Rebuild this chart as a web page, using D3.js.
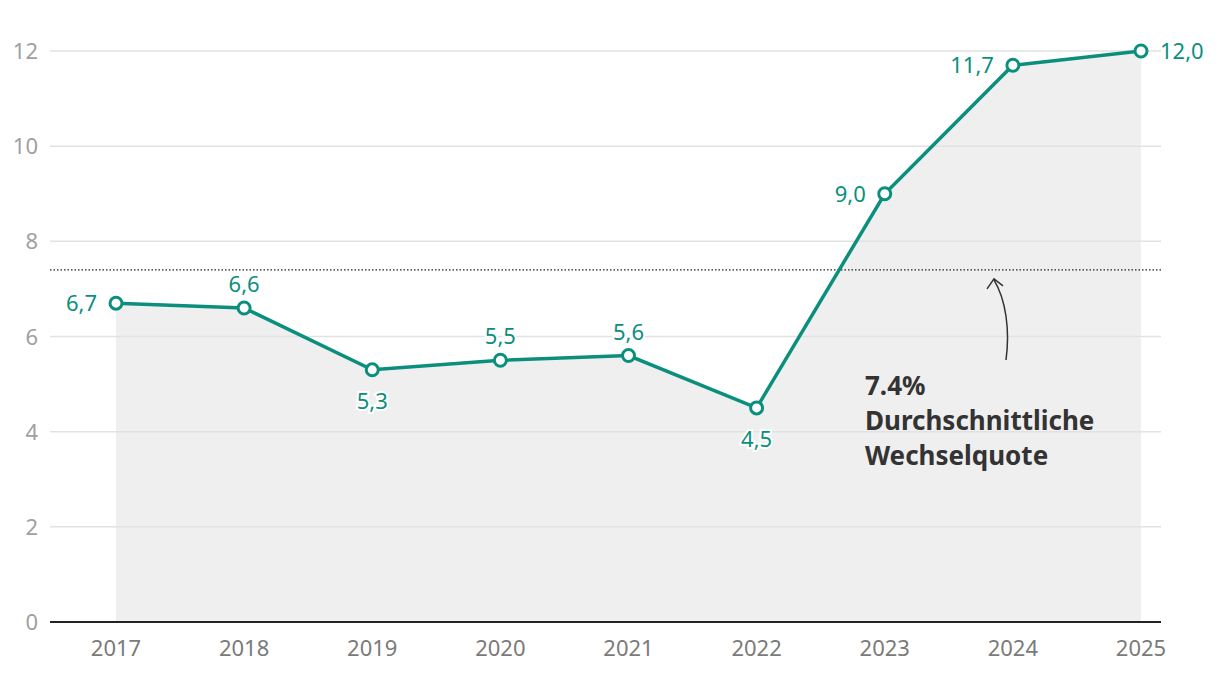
<!DOCTYPE html>
<html><head><meta charset="utf-8">
<script src="https://cdn.jsdelivr.net/npm/d3@7"></script>
<style>body{margin:0;background:#fff;}svg{display:block;font-family:"Noto Sans",sans-serif;}</style>
</head><body><svg id="c" width="1220" height="674"></svg>
<script>
const years = ["2017","2018","2019","2020","2021","2022","2023","2024","2025"];
const values = [6.7,6.6,5.3,5.5,5.6,4.5,9.0,11.7,12.0];
const labelPos = ["left","above","below","above","above","below","left","left","right"];
const yTicks = [0,2,4,6,8,10,12];
const average = 7.4;
const annotationLines = ["7.4%","Durchschnittliche","Wechselquote"];

const svg = d3.select("#c");
const teal = "#0b8f7d";
const x = d3.scalePoint().domain(years).range([116,1141]);
const y = d3.scaleLinear().domain([0,12]).range([622,51]);
const fmt = v => d3.format(".1f")(v).replace(".", ",");
const data = years.map((yr,i)=>({yr, v: values[i], pos: labelPos[i]}));

// area
svg.append("path").datum(data)
  .attr("d", d3.area().x(d=>x(d.yr)).y0(y(0)).y1(d=>y(d.v)))
  .attr("fill","#efefef");

// grid
svg.append("g").selectAll("line").data(yTicks.filter(t=>t>0)).join("line")
  .attr("x1",50).attr("x2",1161).attr("y1",d=>y(d)).attr("y2",d=>y(d))
  .attr("stroke","#e2e2e2").attr("stroke-width",1.5);
svg.append("line").attr("x1",50).attr("x2",1161).attr("y1",y(0)).attr("y2",y(0))
  .attr("stroke","#222").attr("stroke-width",2);

// y labels
svg.append("g").selectAll("text").data(yTicks).join("text")
  .attr("x",38).attr("y",d=>y(d)+8).attr("text-anchor","end")
  .attr("fill","#a0a0a0").attr("font-size",22).text(d=>d);

// x labels
svg.append("g").selectAll("text").data(years).join("text")
  .attr("x",d=>x(d)).attr("y",656).attr("text-anchor","middle")
  .attr("fill","#7a7a7a").attr("font-size",22).text(d=>d);

// average line
svg.append("line").attr("x1",50).attr("x2",1161).attr("y1",y(average)).attr("y2",y(average))
  .attr("stroke","#222").attr("stroke-width",1.3).attr("stroke-dasharray","1.5,2");

// arrow
svg.append("path").attr("d",`M1006,360 C1010,330 1006,300 994,${y(average)+10}`)
  .attr("fill","none").attr("stroke","#333").attr("stroke-width",1.5);
svg.append("path").attr("d",`M987,${y(average)+19} L994,${y(average)+9} L1003,${y(average)+16}`)
  .attr("fill","none").attr("stroke","#333").attr("stroke-width",1.5);

// annotation
svg.append("g").selectAll("text").data(annotationLines).join("text")
  .attr("x",865).attr("y",(d,i)=>395+i*35)
  .attr("fill","#333").attr("font-size",26).attr("font-weight","bold").text(d=>d);

// line
svg.append("path").datum(data)
  .attr("d", d3.line().x(d=>x(d.yr)).y(d=>y(d.v)))
  .attr("fill","none").attr("stroke",teal).attr("stroke-width",3.5);

svg.append("g").selectAll("circle").data(data).join("circle")
  .attr("cx",d=>x(d.yr)).attr("cy",d=>y(d.v)).attr("r",6)
  .attr("fill","#fff").attr("stroke",teal).attr("stroke-width",3);

// labels
svg.append("g").selectAll("text").data(data).join("text")
  .attr("x",d=> d.pos==="left" ? x(d.yr)-19 : d.pos==="right" ? x(d.yr)+19 : x(d.yr))
  .attr("y",d=> d.pos==="above" ? y(d.v)-16 : d.pos==="below" ? y(d.v)+39 : y(d.v)+8)
  .attr("text-anchor",d=> d.pos==="left" ? "end" : d.pos==="right" ? "start" : "middle")
  .attr("fill",teal).attr("font-size",22)
  .attr("stroke","#fff").attr("stroke-width",4).attr("paint-order","stroke")
  .text(d=>fmt(d.v));
</script></body></html>
